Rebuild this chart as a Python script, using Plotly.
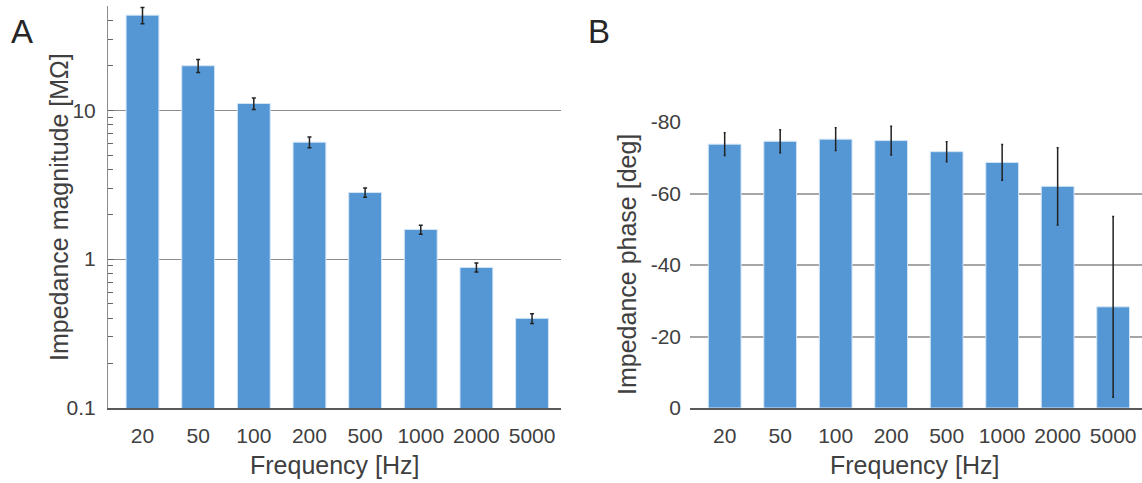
import plotly.graph_objects as go

W, H = 1142, 483

freq_labels = ["20", "50", "100", "200", "500", "1000", "2000", "5000"]
mag_mean = [43.5, 19.9, 11.1, 6.1, 2.8, 1.58, 0.88, 0.40]
mag_err = [5.4, 2.0, 1.0, 0.5, 0.2, 0.11, 0.06, 0.03]
phase_mean = [-73.8, -74.6, -75.2, -74.8, -71.7, -68.7, -62.0, -28.3]
phase_err = [3.2, 3.2, 3.2, 4.0, 2.8, 5.0, 10.8, 25.3]

phase_ticks = [0, -20, -40, -60, -80]
phase_ticktext = ["0", "-20", "-40", "-60", "-80"]

FONT = "Arial, Liberation Sans, sans-serif"
TXT = "#404040"
BAR = "#5597d5"
BAR_EDGE = "#d4e5f5"


def px_x(p):
    return p / W


def px_y(p):
    return (H - p) / H


fig = go.Figure()
fig.add_trace(go.Bar(
    x=freq_labels, y=mag_mean, width=0.59,
    marker=dict(color=BAR, line=dict(color=BAR_EDGE, width=1)),
    error_y=dict(type="data", array=mag_err, color="#222222", thickness=1.5, width=2),
    xaxis="x", yaxis="y", showlegend=False,
))
fig.add_trace(go.Bar(
    x=freq_labels, y=phase_mean, width=0.59,
    marker=dict(color=BAR, line=dict(color=BAR_EDGE, width=1)),
    error_y=dict(type="data", array=phase_err, color="#222222", thickness=1.5, width=1),
    xaxis="x2", yaxis="y2", showlegend=False,
))

tickfont = dict(family=FONT, size=21, color=TXT)

fig.update_layout(
    width=W, height=H,
    margin=dict(l=0, r=0, t=0, b=0, autoexpand=False),
    paper_bgcolor="white", plot_bgcolor="white",
    font=dict(family=FONT, color=TXT),
    xaxis=dict(
        domain=[px_x(108), px_x(561)], anchor="y", type="category",
        range=[-0.62, 7.52], showline=True, linecolor="#595959", linewidth=1.5,
        ticks="", tickfont=tickfont, ticklabelstandoff=8, showgrid=False,
        automargin=False,
    ),
    yaxis=dict(
        domain=[px_y(408), px_y(6)], anchor="x", type="log",
        range=[-1, 1.7], tickmode="linear", tick0=0, dtick=1,
        showgrid=True, gridcolor="#8c8c8c", gridwidth=1,
        showline=True, linecolor="#8c8c8c", linewidth=1,
        ticks="inside", ticklen=6, tickcolor="#666666", tickwidth=1,
        tickfont=tickfont, ticklabelstandoff=7,
        minor=dict(ticks="inside", ticklen=5, tickcolor="#666666", tickwidth=1,
                   dtick="D1", showgrid=False),
        zeroline=False, automargin=False,
    ),
    xaxis2=dict(
        domain=[px_x(690), 1.0], anchor="y2", type="category",
        range=[-0.625, 7.52], showline=True, linecolor="#595959", linewidth=1.5,
        ticks="", tickfont=tickfont, ticklabelstandoff=8, showgrid=False,
        automargin=False,
    ),
    yaxis2=dict(
        domain=[px_y(408), px_y(122)], anchor="x2",
        range=[0, -80], tickvals=phase_ticks, ticktext=phase_ticktext,
        showgrid=True, gridcolor="#a6a6a6", gridwidth=1.5,
        showline=False, zeroline=False,
        ticks="", tickfont=tickfont, ticklabelstandoff=8, automargin=False,
    ),
    annotations=[
        dict(text="A", x=px_x(9), y=px_y(31), xref="paper", yref="paper",
             xanchor="left", yanchor="middle", showarrow=False,
             font=dict(family=FONT, size=33, color="#262626")),
        dict(text="B", x=px_x(586), y=px_y(31), xref="paper", yref="paper",
             xanchor="left", yanchor="middle", showarrow=False,
             font=dict(family=FONT, size=33, color="#262626")),
        dict(text="Impedance magnitude [MΩ]", x=px_x(59), y=px_y(207), xref="paper", yref="paper",
             xanchor="center", yanchor="middle", textangle=-90, showarrow=False,
             font=dict(family=FONT, size=25, color=TXT)),
        dict(text="Impedance phase [deg]", x=px_x(627), y=px_y(265), xref="paper", yref="paper",
             xanchor="center", yanchor="middle", textangle=-90, showarrow=False,
             font=dict(family=FONT, size=25, color=TXT)),
        dict(text="Frequency [Hz]", x=px_x(334.5), y=px_y(465), xref="paper", yref="paper",
             xanchor="center", yanchor="middle", showarrow=False,
             font=dict(family=FONT, size=25, color=TXT)),
        dict(text="Frequency [Hz]", x=px_x(915), y=px_y(465), xref="paper", yref="paper",
             xanchor="center", yanchor="middle", showarrow=False,
             font=dict(family=FONT, size=25, color=TXT)),
    ],
)

fig.write_html("out.html")
